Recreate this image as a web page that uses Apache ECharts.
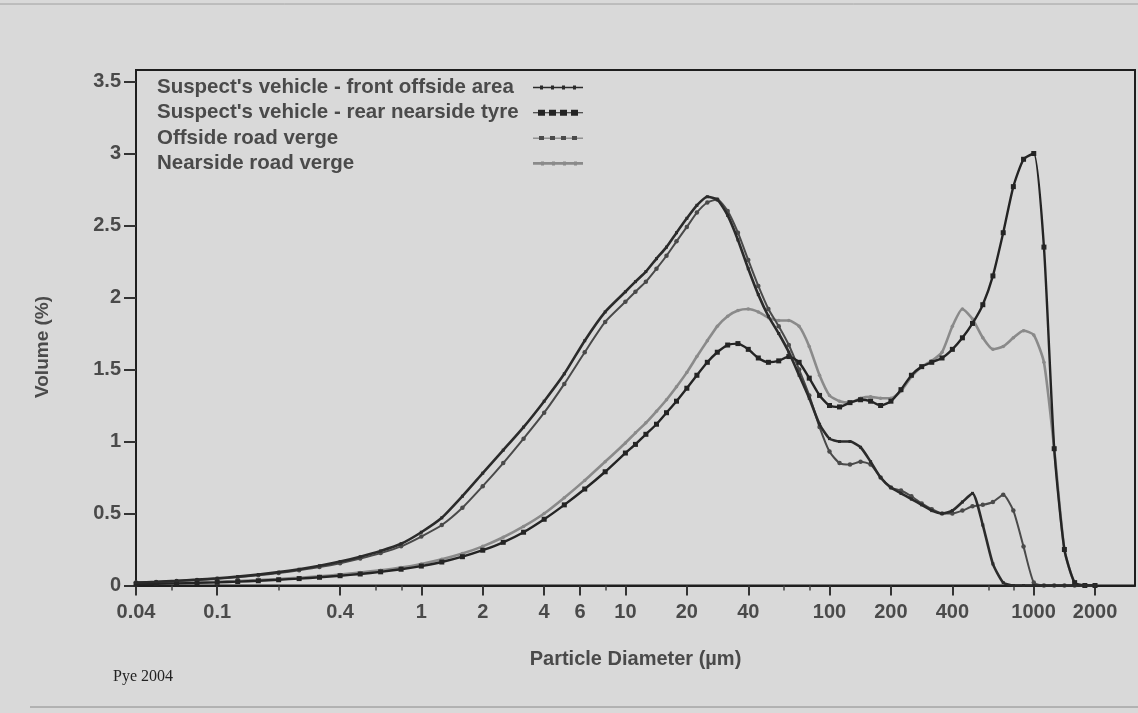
<!DOCTYPE html>
<html>
<head>
<meta charset="utf-8">
<title>Particle size distribution</title>
<script src="https://cdn.jsdelivr.net/npm/echarts@6/dist/echarts.min.js"></script>
<style>
  html, body { margin: 0; padding: 0; background: #d9d9d9; }
  #chart { width: 1138px; height: 713px; }
</style>
</head>
<body>
<div id="chart"></div>
<script>
// Particle diameters (µm) of the measured size classes
const diameters = [0.04, 0.0502, 0.0632, 0.0796, 0.1, 0.126, 0.159, 0.2, 0.252, 0.317,
  0.4, 0.502, 0.632, 0.796, 1.0, 1.26, 1.59, 2.0, 2.52, 3.17,
  4.0, 5.02, 6.32, 7.96,
  10.0, 11.2, 12.6, 14.2, 15.9, 17.8, 20.0, 22.4, 25.2, 28.2,
  31.7, 35.6, 40.0, 44.8, 50.2, 56.4, 63.2, 71.0, 79.6, 89.4,
  100, 112, 126, 142, 159, 178, 200, 224, 252, 283,
  317, 356, 400, 448, 502, 564, 632, 710, 796, 893,
  1002, 1124, 1262, 1416, 1589, 1783, 2000];

// Volume (%) per size class for each sample
const frontOffside = [0.02, 0.026, 0.033, 0.041, 0.05, 0.062, 0.076, 0.093, 0.113, 0.137,
  0.166, 0.2, 0.24, 0.29, 0.37, 0.47, 0.62, 0.78, 0.94, 1.1,
  1.28, 1.47, 1.7, 1.9,
  2.04, 2.11, 2.18, 2.27, 2.35, 2.45, 2.55, 2.64, 2.7, 2.68,
  2.57, 2.4, 2.2, 2.02, 1.87, 1.75, 1.62, 1.46, 1.3, 1.12,
  1.02, 1.0, 1.0, 0.96, 0.86, 0.75, 0.68, 0.64, 0.6, 0.56,
  0.52, 0.5, 0.52, 0.58, 0.64, 0.42, 0.15, 0.02, 0, 0,
  0, 0, 0, 0, 0, 0, 0];

const rearNearsideTyre = [0.01, 0.012, 0.015, 0.018, 0.022, 0.027, 0.033, 0.04, 0.048, 0.057,
  0.068, 0.08, 0.095, 0.113, 0.135, 0.163, 0.2, 0.245, 0.3, 0.37,
  0.46, 0.56, 0.67, 0.79,
  0.92, 0.98, 1.05, 1.12, 1.2, 1.28, 1.37, 1.46, 1.55, 1.62,
  1.67, 1.68, 1.64, 1.58, 1.55, 1.56, 1.59, 1.55, 1.44, 1.32,
  1.25, 1.24, 1.27, 1.29, 1.28, 1.25, 1.28, 1.36, 1.46, 1.52,
  1.55, 1.58, 1.64, 1.72, 1.82, 1.95, 2.15, 2.45, 2.77, 2.96,
  3.0, 2.35, 0.95, 0.25, 0.02, 0, 0];

const offsideVerge = [0.02, 0.025, 0.031, 0.038, 0.047, 0.058, 0.071, 0.087, 0.106, 0.128,
  0.155, 0.187, 0.225, 0.272, 0.34, 0.42, 0.54, 0.69, 0.85, 1.02,
  1.2, 1.4, 1.62, 1.83,
  1.97, 2.04, 2.11, 2.2, 2.29, 2.39, 2.49, 2.59, 2.66, 2.68,
  2.6, 2.45, 2.26, 2.08, 1.92, 1.8, 1.67, 1.5, 1.32, 1.1,
  0.93, 0.85, 0.84, 0.86, 0.84, 0.75, 0.68, 0.66, 0.62, 0.57,
  0.53, 0.5, 0.5, 0.52, 0.55, 0.56, 0.58, 0.63, 0.52, 0.27,
  0.02, 0, 0, 0, 0, 0, 0];

const nearsideVerge = [0.012, 0.014, 0.017, 0.021, 0.026, 0.031, 0.037, 0.045, 0.054, 0.064,
  0.076, 0.09, 0.106, 0.125, 0.15, 0.182, 0.222, 0.272, 0.335, 0.41,
  0.5, 0.61, 0.73, 0.86,
  0.99, 1.06, 1.13, 1.21, 1.29, 1.38, 1.48, 1.59, 1.7, 1.8,
  1.87, 1.91, 1.92, 1.9, 1.86, 1.84, 1.84, 1.8, 1.66, 1.46,
  1.32, 1.28, 1.27, 1.3, 1.31, 1.3, 1.3, 1.35, 1.45, 1.52,
  1.56, 1.62, 1.8, 1.92, 1.85, 1.72, 1.64, 1.66, 1.72, 1.77,
  1.74, 1.55, 0.95, 0.25, 0.02, 0, 0];

const seriesNames = [
  "Suspect's vehicle - front offside area",
  "Suspect's vehicle - rear nearside tyre",
  'Offside road verge',
  'Nearside road verge'
];

// Axis ticks
const xTickValues = [0.04, 0.1, 0.4, 1, 2, 4, 6, 10, 20, 40, 100, 200, 400, 1000, 2000];
const xTickLabels = ['0.04', '0.1', '0.4', '1', '2', '4', '6', '10', '20', '40', '100', '200', '400', '1000', '2000'];
const xMinorTickValues = [0.06, 0.2, 0.6, 0.8, 8, 60, 80, 600, 800];
const yTickLabels = ['0', '0.5', '1', '1.5', '2', '2.5', '3', '3.5'];

const X_MIN = 0.04, X_MAX = 3140;
const FONT = '"Liberation Sans", Arial, sans-serif';
const TEXT_COLOR = '#4a4a4a';

const pairs = vals => diameters.map((d, i) => [d, vals[i]]);
const lg = Math.log10;

// Legend icons: a short line sample carrying four markers
const icons = [
  'path://M0,4.3H50V5.7H0Z M7,3h3v4h-3Z M18,3h3v4h-3Z M29,3h3v4h-3Z M40,3h3v4h-3Z',
  'path://M0,4.5H50V5.5H0Z M5,2h7v6h-7Z M16,2h7v6h-7Z M27,2h7v6h-7Z M38,2h7v6h-7Z',
  'path://M0,4.6H50V5.4H0Z M6,3h5v4h-5Z M17,3h5v4h-5Z M28,3h5v4h-5Z M39,3h5v4h-5Z',
  'path://M0,3.6H50V6.4H0Z M8,3h3v4h-3Z M19,3h3v4h-3Z M30,3h3v4h-3Z M41,3h3v4h-3Z'
];

const styles = [
  { color: '#2b2b2b', width: 2.6, symbol: 'rect', size: 3 },
  { color: '#242424', width: 2.4, symbol: 'rect', size: 5 },
  { color: '#4a4a4a', width: 2, symbol: 'circle', size: 4.5 },
  { color: '#8a8a8a', width: 2.6, symbol: 'circle', size: 3.5 }
];
const values = [frontOffside, rearNearsideTyre, offsideVerge, nearsideVerge];

const chart = echarts.init(document.getElementById('chart'), null, { renderer: 'canvas' });

const option = {
  backgroundColor: '#d9d9d9',
  animation: false,
  grid: {
    left: 136, right: 3, top: 70, bottom: 127.5,
    show: true, borderColor: '#1e1e1e', borderWidth: 2, backgroundColor: 'transparent'
  },
  legend: {
    orient: 'vertical',
    left: 157,
    top: 77,
    padding: 0,
    align: 'right',
    itemWidth: 50,
    itemHeight: 10,
    itemGap: 4.3,
    selectedMode: false,
    formatter: '{t|{name}}',
    textStyle: {
      rich: {
        t: {
          width: 371, align: 'left', fontSize: 20.5, lineHeight: 20,
          fontWeight: 'bold', color: TEXT_COLOR, fontFamily: FONT
        }
      }
    },
    data: seriesNames.map((n, i) => ({ name: n, icon: icons[i] }))
  },
  xAxis: [
    {
      type: 'log', logBase: 10, min: X_MIN, max: X_MAX,
      position: 'bottom',
      axisLine: { show: true, onZero: false, lineStyle: { color: '#1e1e1e', width: 2 } },
      axisTick: { show: false },
      axisLabel: { show: false },
      splitLine: { show: false }
    },
    {
      type: 'value', min: lg(X_MIN), max: lg(X_MAX),
      position: 'bottom',
      name: 'Particle Diameter (µm)',
      nameLocation: 'middle',
      nameGap: 64,
      nameTextStyle: { fontSize: 20, fontWeight: 'bold', color: TEXT_COLOR, fontFamily: FONT },
      axisLine: { show: false, onZero: false },
      axisTick: {
        show: true, length: 10, inside: false,
        customValues: xTickValues.map(lg),
        lineStyle: { color: '#333', width: 2 }
      },
      axisLabel: {
        show: true, margin: 17, fontSize: 20, fontWeight: 'bold', color: TEXT_COLOR, fontFamily: FONT,
        customValues: xTickValues.map(lg),
        formatter: v => {
          const i = xTickValues.findIndex(t => Math.abs(lg(t) - v) < 1e-6);
          return i >= 0 ? xTickLabels[i] : '';
        }
      },
      splitLine: { show: false }
    },
    {
      type: 'value', min: lg(X_MIN), max: lg(X_MAX),
      position: 'bottom',
      axisLine: { show: false, onZero: false },
      axisTick: {
        show: true, length: 5,
        customValues: xMinorTickValues.map(lg),
        lineStyle: { color: '#444', width: 1.5 }
      },
      axisLabel: { show: false },
      splitLine: { show: false }
    }
  ],
  yAxis: {
    type: 'value', min: 0, max: 3.58, interval: 0.5,
    position: 'left',
    axisLine: { show: true, onZero: false, lineStyle: { color: '#1e1e1e', width: 2 } },
    axisTick: { show: true, length: 12, lineStyle: { color: '#333', width: 2 } },
    axisLabel: {
      margin: 15, fontSize: 20, fontWeight: 'bold', color: TEXT_COLOR, fontFamily: FONT,
      formatter: v => yTickLabels[Math.round(v / 0.5)] || ''
    },
    splitLine: { show: false }
  },
  series: seriesNames.map((name, i) => ({
    name,
    type: 'line',
    xAxisIndex: 0,
    data: pairs(values[i]),
    smooth: 0.2,
    symbol: styles[i].symbol,
    symbolSize: styles[i].size,
    showSymbol: true,
    lineStyle: { color: styles[i].color, width: styles[i].width },
    itemStyle: { color: styles[i].color },
    emphasis: { disabled: true },
    z: 10 - i
  })),
  graphic: [
    {
      type: 'text', x: 43, y: 347, rotation: Math.PI / 2,
      style: {
        text: 'Volume (%)', font: 'bold 19px ' + FONT, fill: TEXT_COLOR,
        align: 'center', verticalAlign: 'middle'
      }
    },
    {
      type: 'text', x: 113, y: 677,
      style: {
        text: 'Pye 2004', font: '16px "Liberation Serif", "Times New Roman", serif', fill: '#222',
        align: 'left', verticalAlign: 'middle'
      }
    },
    {
      type: 'line', shape: { x1: 0, y1: 4, x2: 1138, y2: 4 },
      style: { stroke: '#a0a0a0', lineWidth: 1 }
    },
    {
      type: 'line', shape: { x1: 30, y1: 707, x2: 1138, y2: 707 },
      style: { stroke: '#8a8a8a', lineWidth: 1 }
    }
  ]
};

chart.setOption(option);
</script>
</body>
</html>
